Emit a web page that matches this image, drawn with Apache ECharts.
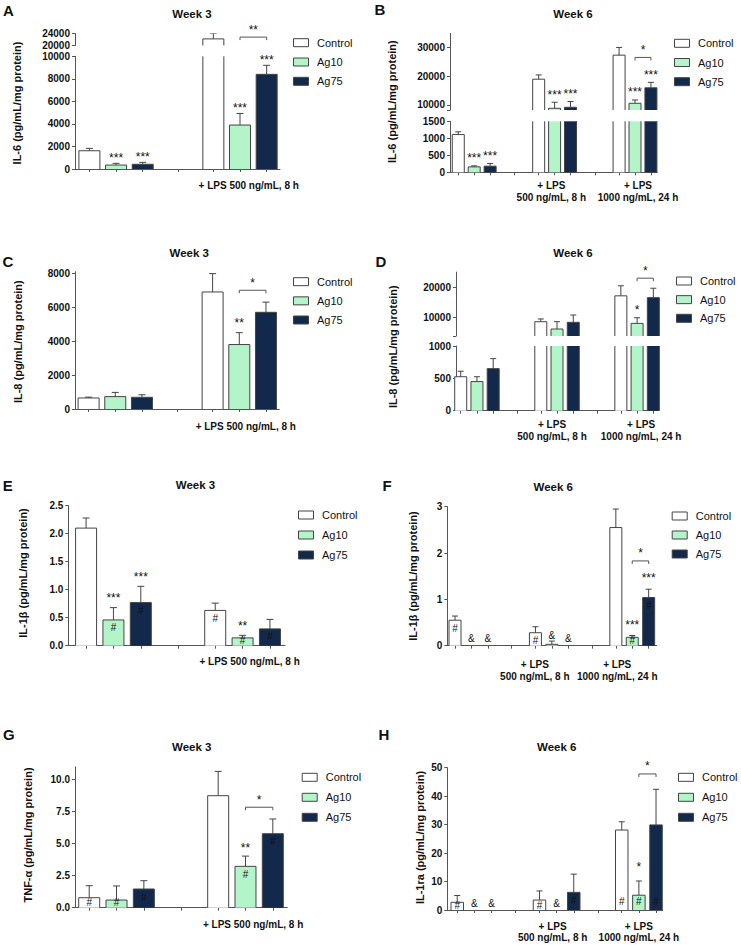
<!DOCTYPE html>
<html><head><meta charset="utf-8"><title>Cytokine release</title>
<script src="https://cdn.jsdelivr.net/npm/echarts@6.0.0/dist/echarts.min.js"></script>
<style>html,body{margin:0;padding:0;background:#fff}#chart{width:741px;height:945px}</style>
</head><body><div id="chart"></div>
<script>
// ---------------- data ----------------
const SERIES = ['Control', 'Ag10', 'Ag75'];
const W3_GROUPS = ['', '+ LPS 500 ng/mL, 8 h'];
const W6_GROUPS = ['', '+ LPS\n500 ng/mL, 8 h', '+ LPS\n1000 ng/mL, 24 h'];

// A: IL-6, week 3
const aControl = [1620, 22200], aControlErr = [210, 1800];
const aAg10 = [350, 3900], aAg10Err = [150, 1030];
const aAg75 = [420, 8400], aAg75Err = [170, 800];
const aTicksLow = [0, 2000, 4000, 6000, 8000, 10000];
const aTicksHigh = [20000, 24000];
const aMarks = [[0,1,'***','above'],[0,2,'***','above'],[1,1,'***','above'],[1,2,'***','above']];
const aBrackets = [[1,'**',22800]];

// B: IL-6, week 6
const bControl = [1110, 19000, 27400], bControlErr = [80, 1500, 2700];
const bAg10 = [160, 8850, 10600], bAg10Err = [30, 2100, 1150];
const bAg75 = [180, 9200, 16000], bAg75Err = [80, 2000, 1900];
const bTicksLow = [0, 500, 1000, 1500];
const bTicksHigh = [10000, 20000, 30000];
const bMarks = [[0,1,'***','above'],[0,2,'***','above'],[1,1,'***','above'],[1,2,'***','above'],[2,1,'***','above'],[2,2,'***','above']];
const bBrackets = [[2,'*',26600]];

// C: IL-8, week 3
const cControl = [650, 6900], cControlErr = [50, 1080];
const cAg10 = [730, 3800], cAg10Err = [250, 700];
const cAg75 = [690, 5700], cAg75Err = [150, 600];
const cTicks = [0, 2000, 4000, 6000, 8000];
const cMarks = [[1,1,'**','above']];
const cBrackets = [[1,'*',7000]];

// D: IL-8, week 6
const dControl = [525, 8700, 17200], dControlErr = [85, 900, 3300];
const dAg10 = [450, 6300, 8150], dAg10Err = [75, 2400, 1850];
const dAg75 = [650, 8500, 16600], dAg75Err = [155, 2400, 3100];
const dTicksLow = [0, 500, 1000];
const dTicksHigh = [10000, 20000];
const dMarks = [[2,1,'*','above']];
const dBrackets = [[2,'*',23000]];

// E: IL-1beta, week 3
const eControl = [2.1, 0.63], eControlErr = [0.18, 0.13];
const eAg10 = [0.46, 0.14], eAg10Err = [0.22, 0.045];
const eAg75 = [0.77, 0.30], eAg75Err = [0.29, 0.17];
const eTicks = [0, 0.5, 1.0, 1.5, 2.0, 2.5];
const eMarks = [[0,1,'***','above'],[0,2,'***','above'],[1,1,'**','above'],
  [0,1,'#','top'],[0,2,'#','top'],[1,0,'#','top'],[1,1,'#','top'],[1,2,'#','top']];
const eBrackets = [];

// F: IL-1beta, week 6
const fControl = [0.55, 0.28, 2.55], fControlErr = [0.09, 0.13, 0.40];
const fAg10 = [0, 0.03, 0.18], fAg10Err = [0, 0.07, 0.04];
const fAg75 = [0, 0, 1.04], fAg75Err = [0, 0, 0.18];
const fTicks = [0, 1, 2, 3];
const fMarks = [[0,0,'#','top'],[0,1,'&','zero'],[0,2,'&','zero'],[1,0,'#','top'],[1,1,'&','above'],[1,2,'&','zero'],
  [2,1,'***','above'],[2,2,'***','above'],[2,1,'#','top'],[2,2,'#','top']];
const fBrackets = [[2,'*',1.83]];

// G: TNF-alpha, week 3
const gControl = [0.78, 8.75], gControlErr = [0.94, 1.9];
const gAg10 = [0.6, 3.23], gAg10Err = [1.1, 0.8];
const gAg75 = [1.46, 5.78], gAg75Err = [0.65, 1.15];
const gTicks = [0, 2.5, 5.0, 7.5, 10.0];
const gMarks = [[0,0,'#','top'],[0,1,'#','top'],[0,2,'#','top'],[1,1,'**','above'],[1,1,'#','top'],[1,2,'#','top']];
const gBrackets = [[1,'*',7.85]];

// H: IL-1ra, week 6
const hControl = [2.7, 3.5, 28.1], hControlErr = [2.4, 3.2, 2.9];
const hAg10 = [0, 0, 5.2], hAg10Err = [0, 0, 5.0];
const hAg75 = [0, 6.2, 29.9], hAg75Err = [0, 6.4, 12.5];
const hTicks = [0, 10, 20, 30, 40, 50];
const hMarks = [[0,0,'#','top'],[0,1,'&','zero'],[0,2,'&','zero'],[1,0,'#','top'],[1,1,'&','zero'],[1,2,'#','top'],
  [2,0,'#','base'],[2,1,'#','base'],[2,2,'#','base'],[2,1,'*','above']];
const hBrackets = [[2,'*',47.8]];

// ---------------- layout ----------------
const FONT = '"Liberation Sans", Arial, Helvetica, sans-serif';
const AXIS = '#555', EDGE = '#444', INK = '#111';
const FILL = {Control: '#ffffff', Ag10: '#b3f4c9', Ag75: '#13294b'};

const PANELS = [
 {letter:'A', letterPos:[8.3,10], title:'Week 3', titlePos:[192,14], yName:'IL-6 (pg/mL/mg protein)', yNamePos:[17,103],
  left:75, width:205, stride:4.65, xMin:-0.54, xMax:7.15, barWidth:21, cap:7, starGap:8, labelMargin:10.25, labelShift:[0,8.7],
  legend:{left:293, top:36.7, gap:7.3}, dec:0, groups:W3_GROUPS,
  values:[aControl,aAg10,aAg75], errs:[aControlErr,aAg10Err,aAg75Err], marks:aMarks, brackets:aBrackets,
  segs:[{top:56.3,bottom:169,min:0,max:10000,ticks:aTicksLow,labels:aTicksLow},
        {top:33.5,bottom:45.5,min:20000,max:24000,ticks:aTicksHigh,labels:aTicksHigh}]},
 {letter:'B', letterPos:[380,9.2], title:'Week 6', titlePos:[573,14], yName:'IL-6 (pg/mL/mg protein)', yNamePos:[391.7,101.7],
  left:450, width:207.3, stride:5.05, xMin:-0.52, xMax:12.5, barWidth:12, cap:6, starGap:10, labelMargin:7.7, labelShift:[0,-3.3,3],
  legend:{left:674, top:37.3, gap:7.2}, dec:0, groups:W6_GROUPS,
  values:[bControl,bAg10,bAg75], errs:[bControlErr,bAg10Err,bAg75Err], marks:bMarks, brackets:bBrackets,
  segs:[{top:121.3,bottom:172.3,min:0,max:1500,ticks:bTicksLow,labels:bTicksLow},
        {top:33.37,bottom:110,min:8250,max:35000,ticks:[8250].concat(bTicksHigh),labels:bTicksHigh}]},
 {letter:'C', letterPos:[8,261.7], title:'Week 3', titlePos:[189.3,253.3], yName:'IL-8 (pg/mL/mg protein)', yNamePos:[18.3,341.7],
  left:75, width:204.3, stride:4.65, xMin:-0.51, xMax:7.15, barWidth:21, cap:7, starGap:12, labelMargin:11.25, labelShift:[0,6.5],
  legend:{left:293, top:275.7, gap:7.15}, dec:0, groups:W3_GROUPS,
  values:[cControl,cAg10,cAg75], errs:[cControlErr,cAg10Err,cAg75Err], marks:cMarks, brackets:cBrackets,
  segs:[{top:271.6,bottom:409,min:0,max:8100,ticks:cTicks,labels:cTicks}]},
 {letter:'D', letterPos:[381,261], title:'Week 6', titlePos:[573,253], yName:'IL-8 (pg/mL/mg protein)', yNamePos:[392.7,346.7],
  left:456, width:202.7, stride:4.93, xMin:-0.29, xMax:12.19, barWidth:12, cap:6, starGap:10.5, labelMargin:8.5, labelShift:[0,-5,4],
  legend:{left:676, top:275, gap:6.65}, dec:0, groups:W6_GROUPS,
  values:[dControl,dAg10,dAg75], errs:[dControlErr,dAg10Err,dAg75Err], marks:dMarks, brackets:dBrackets,
  segs:[{top:346,bottom:410.7,min:0,max:1000,ticks:dTicksLow,labels:dTicksLow},
        {top:272.1,bottom:336,min:4000,max:25000,ticks:[4000].concat(dTicksHigh),labels:dTicksHigh}]},
 {letter:'E', letterPos:[7.7,485], title:'Week 3', titlePos:[195.5,485], yName:'IL-1β (pg/mL/mg protein)', yNamePos:[23.3,573],
  left:68.3, width:216.7, stride:4.72, xMin:-0.65, xMax:7.27, barWidth:21, cap:7, starGap:12, labelMargin:10.5, labelShift:[0,7],
  legend:{left:298, top:509, gap:8}, dec:1, groups:W3_GROUPS,
  values:[eControl,eAg10,eAg75], errs:[eControlErr,eAg10Err,eAg75Err], marks:eMarks, brackets:eBrackets,
  segs:[{top:505.7,bottom:645.7,min:0,max:2.5,ticks:eTicks,labels:eTicks}]},
 {letter:'F', letterPos:[387,485], title:'Week 6', titlePos:[553.3,486.7], yName:'IL-1β (pg/mL/mg protein)', yNamePos:[413.3,576],
  left:447.3, width:209.4, stride:4.9, xMin:-0.47, xMax:12.29, barWidth:12, cap:6, starGap:13.5, labelMargin:13.5, labelShift:[0,-17,-15],
  legend:{left:671.7, top:510, gap:7}, dec:0, groups:W6_GROUPS,
  values:[fControl,fAg10,fAg75], errs:[fControlErr,fAg10Err,fAg75Err], marks:fMarks, brackets:fBrackets,
  segs:[{top:506.7,bottom:645.7,min:0,max:3,ticks:fTicks,labels:fTicks}]},
 {letter:'G', letterPos:[8.8,734], title:'Week 3', titlePos:[191.7,746.7], yName:'TNF-α (pg/mL/mg protein)', yNamePos:[28.3,835],
  left:75, width:212.3, stride:4.72, xMin:-0.52, xMax:7.25, barWidth:21, cap:7, starGap:11, labelMargin:11.5, labelShift:[0,7.6],
  legend:{left:301.7, top:771.3, gap:8}, dec:1, groups:W3_GROUPS,
  values:[gControl,gAg10,gAg75], errs:[gControlErr,gAg10Err,gAg75Err], marks:gMarks, brackets:gBrackets,
  segs:[{top:766.9,bottom:907.7,min:0,max:11,ticks:gTicks,labels:gTicks}]},
 {letter:'H', letterPos:[384,734], title:'Week 6', titlePos:[556.7,747.3], yName:'IL-1ra (pg/mL/mg protein)', yNamePos:[420,837.5],
  left:447.3, width:215.4, stride:4.8, xMin:-0.58, xMax:11.99, barWidth:12.5, cap:6, starGap:16, labelMargin:10.25, labelShift:[0,-4,0],
  legend:{left:678, top:771.3, gap:8}, dec:0, groups:W6_GROUPS,
  values:[hControl,hAg10,hAg75], errs:[hControlErr,hAg10Err,hAg75Err], marks:hMarks, brackets:hBrackets,
  segs:[{top:767.7,bottom:910,min:0,max:50,ticks:hTicks,labels:hTicks}]}
];

// ---------------- build ----------------
const option = {animation:false, backgroundColor:'#fff', grid:[], xAxis:[], yAxis:[], series:[], legend:[], graphic:{elements:[]}};
const txtStyle = (text, font) => ({text, fill:INK, font, textAlign:'center', textVerticalAlign:'middle', align:'center', verticalAlign:'middle'});
const seg = (x1, y1, x2, y2) => ({type:'line', shape:{x1, y1, x2, y2}, style:{stroke:EDGE, lineWidth:1}});

PANELS.forEach(p => {
  const nG = p.groups.length;
  const unit = p.width / (p.xMax - p.xMin);
  const X = (g, k) => g * p.stride + k;
  const tickXs = [];
  for (let g = 0; g < nG; g++) {
    for (let k = 0; k < 3; k++) tickXs.push(X(g, k));
    if (g < nG - 1) tickXs.push(g * p.stride + (2 + p.stride) / 2);
  }
  const labelItems = [];
  p.groups.forEach((t, g) => { if (t) labelItems.push({v: X(g, 1) + p.labelShift[g] / unit, t}); });
  const labelFor = v => {
    let best = '', d = 1e9;
    labelItems.forEach(it => { const dd = Math.abs(it.v - v); if (dd < d) { d = dd; best = it.t; } });
    return d < 0.05 ? best : '';
  };
  const segIndex = val => {
    for (let si = p.segs.length - 1; si >= 0; si--) {
      const s = p.segs[si];
      if (si === 0 ? val <= s.max + 1e-9 : (val > s.min && val <= s.max + 1e-9)) return si;
    }
    return -1;
  };

  p.segs.forEach((s, si) => {
    const gi = option.grid.length;
    option.grid.push({left:p.left, top:s.top, width:p.width, height:s.bottom - s.top});
    option.xAxis.push({gridIndex:gi, type:'value', min:p.xMin, max:p.xMax, show: si === 0,
      axisLine:{show:true, onZero:false, lineStyle:{color:AXIS, width:1}},
      axisTick:{show:true, customValues:tickXs, length:3, lineStyle:{color:AXIS, width:1}},
      axisLabel:{show:true, customValues:labelItems.map(i => i.v), formatter:labelFor, margin:p.labelMargin,
        fontFamily:FONT, fontSize:10, fontWeight:'bold', color:INK, lineHeight:11.5},
      splitLine:{show:false}});
    option.yAxis.push({gridIndex:gi, type:'value', min:s.min, max:s.max,
      axisLine:{show:true, onZero:false, lineStyle:{color:AXIS, width:1}},
      axisTick:{show:true, customValues:s.ticks, length:3, lineStyle:{color:AXIS, width:1}},
      axisLabel:{show:true, customValues:s.labels, margin:5,
        formatter: v => p.dec ? Number(v).toFixed(p.dec) : String(Math.round(v)),
        fontFamily:FONT, fontSize:10, fontWeight:'bold', color:INK},
      splitLine:{show:false}});

    // bar fills
    SERIES.forEach((name, k) => {
      const data = [];
      p.values[k].forEach((v, g) => { if (si === 0 || v > s.min) data.push([X(g, k), v]); });
      option.series.push({type:'bar', name, xAxisIndex:gi, yAxisIndex:gi, data, barWidth:p.barWidth, barGap:'-100%',
        clip:true, silent:true, z:2, itemStyle:{color:FILL[name], borderWidth:0}});
    });

    // bar outlines, left open where the axis is broken
    const od = [];
    SERIES.forEach((name, k) => p.values[k].forEach((v, g) => { if (v > 0 && (si === 0 || v > s.min)) od.push([X(g, k), v]); }));
    const hw = p.barWidth / 2;
    option.series.push({type:'custom', xAxisIndex:gi, yAxisIndex:gi, silent:true, z:3, data:od,
      renderItem:(params, api) => {
        const x = api.value(0), v = api.value(1);
        const top = api.coord([x, Math.min(v, s.max)]);
        const bot = api.coord([x, s.min]);
        const xl = top[0] - hw, xr = top[0] + hw;
        const kids = [seg(xl, bot[1], xl, top[1]), seg(xr, bot[1], xr, top[1])];
        if (v <= s.max) kids.push(seg(xl, top[1], xr, top[1]));
        return {type:'group', children:kids};
      }});

    // error bars (upper side only)
    const eb = [];
    SERIES.forEach((name, k) => p.values[k].forEach((v, g) => {
      const e = p.errs[k][g];
      if (e > 0 && segIndex(v) === si) eb.push([X(g, k), v, e]);
    }));
    const cap = p.cap / 2;
    option.series.push({type:'custom', xAxisIndex:gi, yAxisIndex:gi, clip:true, silent:true, z:3, data:eb,
      renderItem:(params, api) => {
        const x = api.value(0), v = api.value(1), e = api.value(2);
        const a = api.coord([x, v]), b = api.coord([x, v + e]);
        return {type:'group', children:[seg(a[0], a[1], b[0], b[1]), seg(b[0] - cap, b[1], b[0] + cap, b[1])]};
      }});

    // significance marks
    const marks = [], mdata = [];
    p.marks.forEach(([g, k, text, mode]) => {
      const v = p.values[k][g], e = p.errs[k][g];
      const anchor = mode === 'above' ? v + e : (mode === 'top' ? v : 0);
      if (segIndex(anchor) === si) { mdata.push([X(g, k), anchor, marks.length]); marks.push({text, mode}); }
    });
    if (mdata.length) option.series.push({type:'custom', xAxisIndex:gi, yAxisIndex:gi, silent:true, z:4, data:mdata,
      renderItem:(params, api) => {
        const m = marks[api.value(2)];
        const pt = api.coord([api.value(0), api.value(1)]);
        const base = api.coord([api.value(0), s.min])[1];
        const star = m.text.indexOf('*') >= 0;
        let cy;
        if (m.mode === 'above') cy = pt[1] - (star ? p.starGap : 6);
        else if (m.mode === 'top') cy = Math.min(pt[1] + 8, base - 5);
        else if (m.mode === 'base') cy = base - 9;
        else cy = base - 7;
        if (star) cy += 2.5;
        return {type:'text', x:pt[0], y:cy, style:txtStyle(m.text, (star ? '12px ' : '10px ') + FONT)};
      }});

    // brackets
    const btexts = [], bdata = [];
    p.brackets.forEach(([g, text, yv]) => {
      if (segIndex(yv) === si) { bdata.push([X(g, 1), yv, X(g, 2), btexts.length]); btexts.push(text); }
    });
    if (bdata.length) option.series.push({type:'custom', xAxisIndex:gi, yAxisIndex:gi, silent:true, z:4, data:bdata,
      renderItem:(params, api) => {
        const a = api.coord([api.value(0), api.value(1)]), b = api.coord([api.value(2), api.value(1)]);
        return {type:'group', children:[
          {type:'polyline', shape:{points:[[a[0], a[1] + 3], [a[0], a[1]], [b[0], b[1]], [b[0], b[1] + 3]]},
            style:{stroke:AXIS, lineWidth:1, fill:null}},
          {type:'text', x:(a[0] + b[0]) / 2, y:a[1] - 10 + 2.5, style:txtStyle(btexts[api.value(3)], '12px ' + FONT)}
        ]};
      }});
  });

  option.legend.push({orient:'vertical', left:p.legend.left, top:p.legend.top, padding:0, itemGap:p.legend.gap,
    itemWidth:15, itemHeight:8, icon:'rect', selectedMode:false, data:SERIES,
    itemStyle:{borderColor:EDGE, borderWidth:1},
    textStyle:{fontFamily:FONT, fontSize:11, color:INK, lineHeight:12, padding:[0,0,0,3.5]}});

  option.graphic.elements.push(
    {type:'text', x:p.letterPos[0], y:p.letterPos[1], style:txtStyle(p.letter, 'bold 15px ' + FONT)},
    {type:'text', x:p.titlePos[0], y:p.titlePos[1], style:txtStyle(p.title, 'bold 11.5px ' + FONT)},
    {type:'text', x:p.yNamePos[0], y:p.yNamePos[1], rotation:Math.PI / 2, style:txtStyle(p.yName, 'bold 11px ' + FONT)}
  );
});

const chart = echarts.init(document.getElementById('chart'), null, {renderer:'svg', width:741, height:945});
chart.setOption(option);
</script>
</body></html>
